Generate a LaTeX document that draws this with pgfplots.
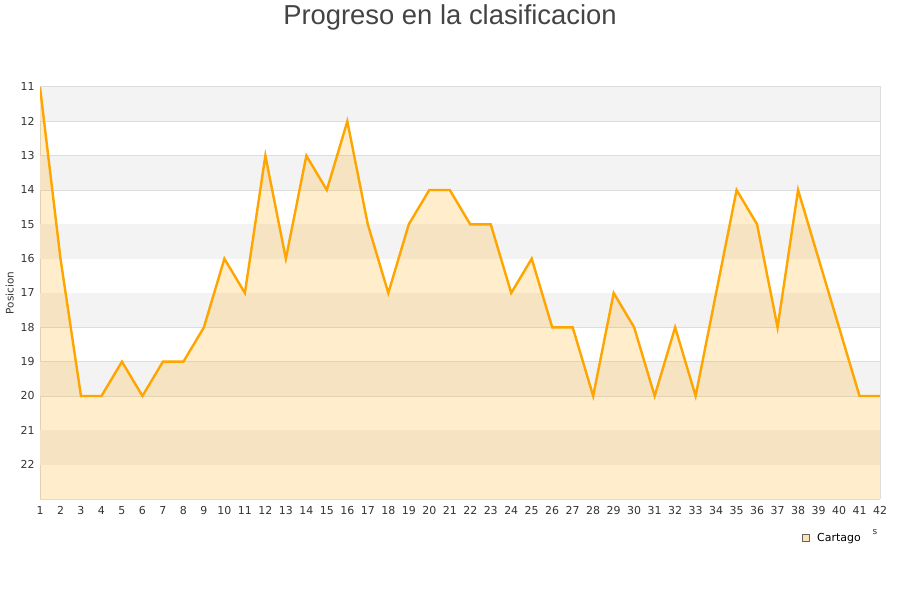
\documentclass[border=0pt]{standalone}
\usepackage{pgfplots}
\pgfplotsset{compat=1.18}
\usepackage{fontspec}
\setmainfont{DejaVu Sans}
\newfontfamily\titlefont{Liberation Sans}
\definecolor{band}{HTML}{F3F3F3}
\definecolor{gridc}{HTML}{DDDDDD}
\definecolor{txt}{HTML}{333333}
\definecolor{ttl}{HTML}{444444}
\definecolor{lineo}{HTML}{FFA500}
\definecolor{legfill}{HTML}{FCE3B4}
\begin{document}
\begin{tikzpicture}[x=1bp,y=1bp]
\path[use as bounding box] (0,0) rectangle (900,600);
\node[font=\titlefont\fontsize{27.5}{31}\selectfont, text=ttl, anchor=base] at (450,575) {Progreso en la clasificacion};
\begin{axis}[
    scale only axis,
    width=840bp, height=412bp,
    at={(40bp,101bp)}, anchor=south west,
    xmin=1, xmax=42,
    ymin=11, ymax=23,
    y dir=reverse,
    xtick={1,...,42},
    ytick={11,...,22},
    ymajorgrids=true,
    grid style={gridc, line width=0.8bp},
    axis line style={gridc, line width=1bp},
    axis x line*=bottom, axis y line*=left,
    tick style={draw=none},
    tick label style={font=\fontsize{11}{13}\selectfont, text=txt},
    /pgf/number format/assume math mode=true,
    xticklabel style={yshift=-4bp},
    yticklabel style={xshift=-2bp},
    ylabel={Posicion},
    ylabel style={font=\fontsize{10.5}{12}\selectfont, text=txt, at={(axis description cs:-0.036,0.5)}, anchor=center},
    legend style={at={(axis description cs:0.943,-0.094)}, anchor=center, draw=none, fill=none,
      font=\fontsize{11}{13}\selectfont, text=black},
    legend cell align=left,
    clip=true,
]
% alternating background bands
\foreach \b in {11,13,15,17,19,21} {
  \edef\tmp{\noexpand\fill[band] (axis cs:1,\b) rectangle (axis cs:42,\the\numexpr\b+1\relax);}
  \tmp
}
\addplot[fill=lineo, fill opacity=0.2, draw=none,
    legend image code/.code={\draw[fill=legfill, fill opacity=1, draw=gray!80!black, draw opacity=1, line width=0.7bp] (0bp,-3.5bp) rectangle (7bp,3.5bp);}]
    coordinates {
    (1,11) (2,16) (3,20) (4,20) (5,19) (6,20) (7,19) (8,19) (9,18) (10,16)
    (11,17) (12,13) (13,16) (14,13) (15,14) (16,12) (17,15) (18,17) (19,15) (20,14)
    (21,14) (22,15) (23,15) (24,17) (25,16) (26,18) (27,18) (28,20) (29,17) (30,18)
    (31,20) (32,18) (33,20) (34,17) (35,14) (36,15) (37,18) (38,14) (39,16) (40,18)
    (41,20) (42,20) (42,23) (1,23)
    } -- cycle;
\addlegendentry{\hspace{6bp}Cartago}
\addplot[color=lineo, line width=2.4bp, mark=none, forget plot]
    coordinates {
    (1,11) (2,16) (3,20) (4,20) (5,19) (6,20) (7,19) (8,19) (9,18) (10,16)
    (11,17) (12,13) (13,16) (14,13) (15,14) (16,12) (17,15) (18,17) (19,15) (20,14)
    (21,14) (22,15) (23,15) (24,17) (25,16) (26,18) (27,18) (28,20) (29,17) (30,18)
    (31,20) (32,18) (33,20) (34,17) (35,14) (36,15) (37,18) (38,14) (39,16) (40,18)
    (41,20) (42,20)
    };
\end{axis}
\draw[gridc, line width=1bp] (40,513) -- (880,513) -- (880,101);
\node[font=\fontsize{9}{10}\selectfont, text=txt] at (875,68) {s};
\end{tikzpicture}
\end{document}
